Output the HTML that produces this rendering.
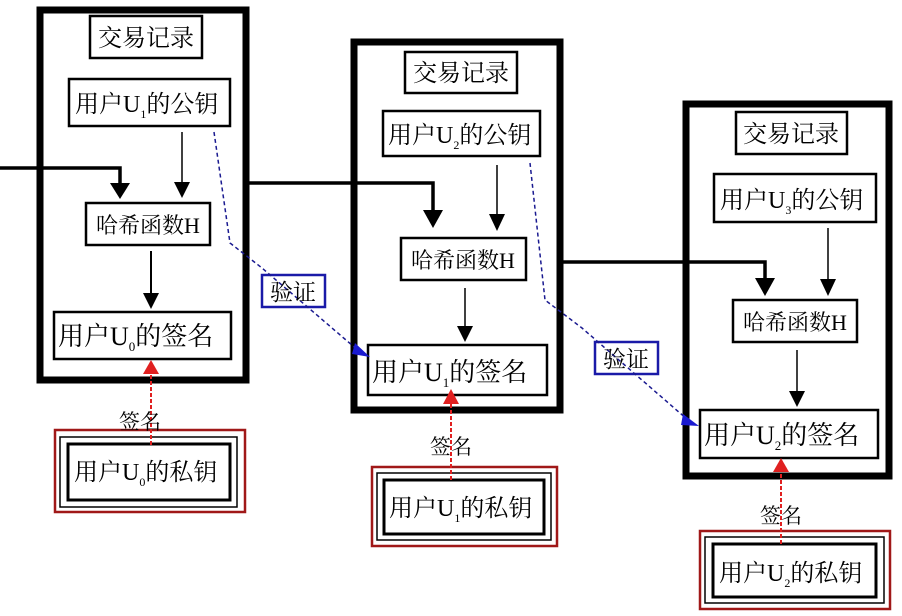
<!DOCTYPE html>
<html><head><meta charset="utf-8"><style>
html,body{margin:0;padding:0;background:#fff;width:902px;height:616px;overflow:hidden}
text{font-family:"Liberation Serif","Noto Serif CJK SC","Noto Sans CJK SC",serif;fill:#000}
</style></head><body>
<svg width="902" height="616" viewBox="0 0 902 616" xmlns="http://www.w3.org/2000/svg">
<g fill="none" stroke="#000">
<rect x="40" y="10" width="206" height="370" stroke-width="7"/>
<rect x="354" y="42" width="206" height="368" stroke-width="7"/>
<rect x="686" y="104" width="203" height="372" stroke-width="7"/>
<g stroke-width="2.5">
<rect x="90" y="16" width="112" height="42"/>
<rect x="69" y="79" width="161" height="47"/>
<rect x="86" y="203" width="124" height="42"/>
<rect x="54" y="312" width="177" height="47"/>
<rect x="405" y="52" width="112" height="41"/>
<rect x="383" y="111" width="157" height="45"/>
<rect x="401" y="238" width="125" height="42"/>
<rect x="368" y="345" width="179" height="50"/>
<rect x="736" y="112" width="111" height="42"/>
<rect x="714" y="174" width="162" height="48"/>
<rect x="733" y="300" width="124" height="42"/>
<rect x="700" y="410" width="178" height="48"/>
</g>
<rect x="55" y="430" width="190" height="82" stroke="#a01818" stroke-width="2.5"/>
<rect x="60" y="437" width="177" height="70" stroke-width="1.5"/>
<rect x="68" y="444" width="162" height="56" stroke-width="3"/>
<rect x="372" y="467" width="185" height="79" stroke="#a01818" stroke-width="2.5"/>
<rect x="377" y="473" width="174" height="67" stroke-width="1.5"/>
<rect x="384" y="480" width="160" height="54" stroke-width="3"/>
<rect x="700" y="531" width="190" height="78" stroke="#a01818" stroke-width="2.5"/>
<rect x="705" y="537" width="179" height="66" stroke-width="1.5"/>
<rect x="713" y="544" width="163" height="53" stroke-width="3"/>
<rect x="262" y="275" width="63" height="32" stroke="#1a1aa8" stroke-width="2.5"/>
<rect x="595" y="342" width="63" height="32" stroke="#1a1aa8" stroke-width="2.5"/>
<polyline points="0,168 120,168 120,185" stroke-width="3.5"/>
<polyline points="246,183 433,183 433,212" stroke-width="3.5"/>
<polyline points="560,262 765,262 765,280" stroke-width="3.5"/>
<line x1="182" y1="132" x2="182" y2="185" stroke-width="1.5"/>
<line x1="151" y1="251" x2="151" y2="295" stroke-width="2"/>
<line x1="497" y1="165" x2="497" y2="218" stroke-width="1.5"/>
<line x1="465" y1="288" x2="465" y2="330" stroke-width="1.5"/>
<line x1="828" y1="228" x2="828" y2="283" stroke-width="1.5"/>
<line x1="797" y1="350" x2="797" y2="395" stroke-width="1.5"/>
<polyline points="214,132 230,243 262,268 360,352" stroke="#1a1a90" stroke-width="1.5" stroke-dasharray="4,3"/>
<polyline points="530,163 545,300 582,328 688,420" stroke="#1a1a90" stroke-width="1.5" stroke-dasharray="4,3"/>
<line x1="151" y1="445" x2="151" y2="372" stroke="#e02020" stroke-width="2" stroke-dasharray="4,2"/>
<line x1="451" y1="480" x2="451" y2="402" stroke="#e02020" stroke-width="2" stroke-dasharray="4,2"/>
<line x1="781" y1="544" x2="781" y2="470" stroke="#e02020" stroke-width="2" stroke-dasharray="4,2"/>
</g>
<g fill="#000">
<polygon points="110,183 130,183 120,199"/>
<polygon points="174,182 190,182 182,198"/>
<polygon points="143,293 159,293 151,309"/>
<polygon points="423,210 443,210 433,228"/>
<polygon points="489,214 505,214 497,231"/>
<polygon points="457,326 473,326 465,342"/>
<polygon points="755,278 775,278 765,296"/>
<polygon points="820,279 836,279 828,296"/>
<polygon points="789,391 805,391 797,407"/>
</g>
<g fill="#1a1ad0">
<polygon points="370,357 355,343 352,354"/>
<polygon points="699,426 683,414 681,425"/>
</g>
<g fill="#e02020">
<polygon points="143,374 159,374 151,360"/>
<polygon points="443,404 459,404 451,389"/>
<polygon points="773,472 789,472 781,458"/>
</g>
<g font-size="24">
<text x="146" y="46" text-anchor="middle">交易记录</text>
<text x="461" y="81" text-anchor="middle">交易记录</text>
<text x="791" y="142" text-anchor="middle">交易记录</text>
<text x="75" y="112">用户U<tspan font-size="12" dy="6">1</tspan><tspan dy="-6">的公钥</tspan></text>
<text x="388" y="143">用户U<tspan font-size="12" dy="6">2</tspan><tspan dy="-6">的公钥</tspan></text>
<text x="720" y="208">用户U<tspan font-size="12" dy="6">3</tspan><tspan dy="-6">的公钥</tspan></text>
<text x="148" y="233" text-anchor="middle" font-size="22">哈希函数H</text>
<text x="463" y="268" text-anchor="middle" font-size="22">哈希函数H</text>
<text x="795" y="330" text-anchor="middle" font-size="22">哈希函数H</text>
<text x="58" y="345" font-size="26">用户U<tspan font-size="13" dy="6">0</tspan><tspan dy="-6">的签名</tspan></text>
<text x="372" y="381" font-size="26">用户U<tspan font-size="13" dy="6">1</tspan><tspan dy="-6">的签名</tspan></text>
<text x="704" y="444" font-size="26">用户U<tspan font-size="13" dy="6">2</tspan><tspan dy="-6">的签名</tspan></text>
<text x="74" y="480">用户U<tspan font-size="12" dy="6">0</tspan><tspan dy="-6">的私钥</tspan></text>
<text x="389" y="516">用户U<tspan font-size="12" dy="6">1</tspan><tspan dy="-6">的私钥</tspan></text>
<text x="719" y="581">用户U<tspan font-size="12" dy="6">2</tspan><tspan dy="-6">的私钥</tspan></text>
<text x="140" y="429" text-anchor="middle" font-size="21">签名</text>
<text x="451" y="454" text-anchor="middle" font-size="21">签名</text>
<text x="781" y="523" text-anchor="middle" font-size="21">签名</text>
<text x="293" y="300" text-anchor="middle" font-size="23">验证</text>
<text x="626" y="367" text-anchor="middle" font-size="23">验证</text>
</g>
</svg>
</body></html>
